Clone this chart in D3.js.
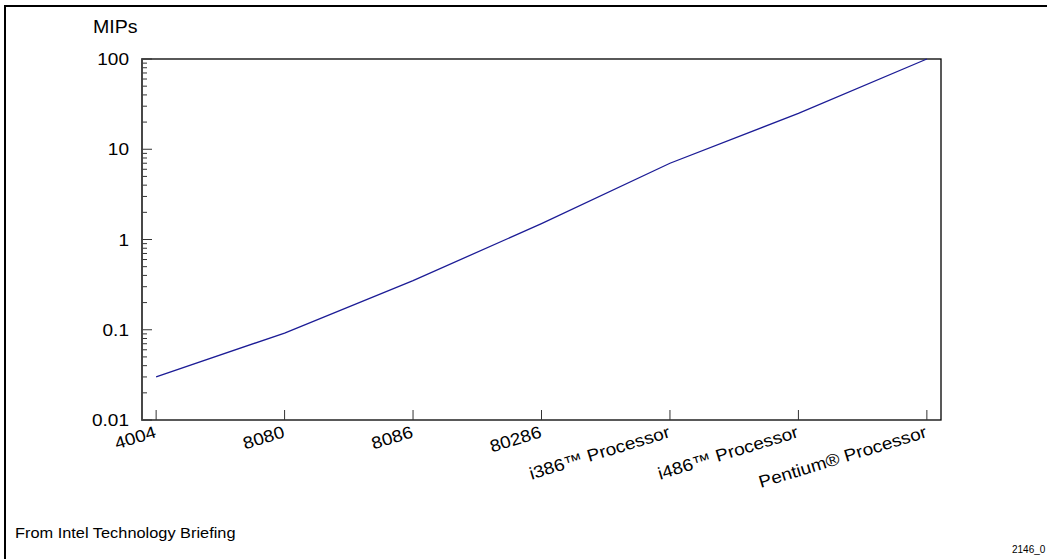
<!DOCTYPE html>
<html>
<head>
<meta charset="utf-8">
<script src="https://cdn.jsdelivr.net/npm/d3@7"></script>
<style>
  html, body { margin: 0; padding: 0; background: #fff; }
  svg { display: block; font-family: "Liberation Sans", Arial, Helvetica, sans-serif; }
</style>
</head>
<body>
<svg id="chart" width="1047" height="559"></svg>
<script>
// Processor generations and their performance in MIPS
const processors = ["4004", "8080", "8086", "80286", "i386\u2122 Processor", "i486\u2122 Processor", "Pentium\u00AE Processor"];
const mips = [0.03, 0.092, 0.35, 1.5, 7, 25, 100];
const yTickValues = [0.01, 0.1, 1, 10, 100];
const yTickLabels = ["0.01", "0.1", "1", "10", "100"];

const svg = d3.select("#chart");
const W = 1047, H = 559;
const plot = { left: 142, top: 59, right: 941, bottom: 420 };
const wide = 1.12; // horizontal widening of the lettering

// outer frame: left and top rules
svg.append("line").attr("x1", 5).attr("x2", 5).attr("y1", 5).attr("y2", H)
  .attr("stroke", "#000").attr("stroke-width", 2);
svg.append("line").attr("x1", 4).attr("x2", W).attr("y1", 6).attr("y2", 6)
  .attr("stroke", "#000").attr("stroke-width", 2);

const x = d3.scalePoint().domain(processors)
  .range([plot.left, plot.right]).padding(0.11);
const y = d3.scaleLog().domain([0.01, 100]).range([plot.bottom, plot.top]);

// plot frame
svg.append("rect")
  .attr("x", plot.left).attr("y", plot.top)
  .attr("width", plot.right - plot.left).attr("height", plot.bottom - plot.top)
  .attr("fill", "none").attr("stroke", "#000").attr("stroke-width", 1.3);

// y axis: major ticks inward with labels, minor log ticks inward
const minorTicks = [];
for (let d = 0.01; d < 100; d *= 10) {
  for (let k = 2; k <= 9; k++) minorTicks.push(+(d * k).toPrecision(3));
}
const yAxis = svg.append("g").attr("transform", `translate(${plot.left},0)`);
yAxis.selectAll("line.minor").data(minorTicks).join("line")
  .attr("class", "minor")
  .attr("x1", 0).attr("x2", 5)
  .attr("y1", d => y(d)).attr("y2", d => y(d))
  .attr("stroke", "#333").attr("stroke-width", 1);
yAxis.selectAll("line.major").data(yTickValues).join("line")
  .attr("class", "major")
  .attr("x1", -1).attr("x2", 10)
  .attr("y1", d => y(d)).attr("y2", d => y(d))
  .attr("stroke", "#333").attr("stroke-width", 1);
yAxis.append("line").attr("x1", 0).attr("x2", 0)
  .attr("y1", plot.top).attr("y2", plot.bottom)
  .attr("stroke", "#444").attr("stroke-width", 1.6);
yAxis.selectAll("text").data(yTickValues).join("text")
  .attr("transform", d => `translate(-13,${y(d)}) scale(${wide},1)`)
  .attr("dy", "0.36em")
  .attr("text-anchor", "end").attr("font-size", 17).attr("fill", "#000")
  .text((d, i) => yTickLabels[i]);

// axis title
svg.append("text").attr("transform", `translate(93,33) scale(${wide},1)`)
  .attr("font-size", 17.5).attr("fill", "#000").text("MIPs");

// x axis ticks (inward) and rotated labels
const xAxis = svg.append("g");
xAxis.selectAll("line").data(processors).join("line")
  .attr("x1", d => x(d)).attr("x2", d => x(d))
  .attr("y1", plot.bottom).attr("y2", plot.bottom - 10)
  .attr("stroke", "#333").attr("stroke-width", 1);
xAxis.selectAll("text").data(processors).join("text")
  .attr("transform", d => `translate(${x(d) + 1},${plot.bottom + 17}) rotate(-17) scale(${wide},1)`)
  .attr("text-anchor", "end").attr("font-size", 17).attr("fill", "#000")
  .text(d => d);

// performance line
const line = d3.line().x((d, i) => x(processors[i])).y(d => y(d));
svg.append("path").datum(mips)
  .attr("d", line)
  .attr("fill", "none").attr("stroke", "#1c1c96").attr("stroke-width", 1.3);

// source note and figure number
svg.append("text").attr("transform", `translate(15,538) scale(${wide},1)`)
  .attr("font-size", 14.6).attr("fill", "#000").text("From Intel Technology Briefing");
svg.append("text").attr("x", 1012).attr("y", 553)
  .attr("font-size", 10).attr("fill", "#000").text("2146_0");
</script>
</body>
</html>
